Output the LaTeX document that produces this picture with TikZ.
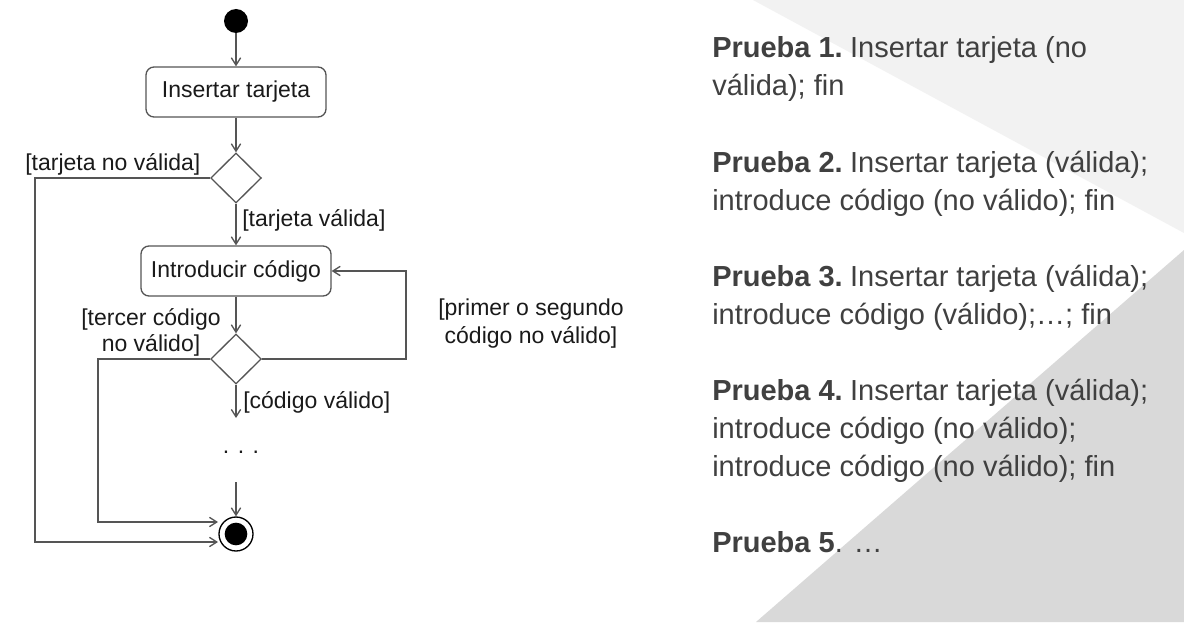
\documentclass[tikz,border=0pt]{standalone}
\usepackage{fontspec}
\setmainfont{Liberation Sans}
\usetikzlibrary{shapes.geometric,arrows.meta}
\definecolor{lg}{HTML}{F2F2F2}
\definecolor{dg}{HTML}{D9D9D9}
\definecolor{ln}{HTML}{555555}
\definecolor{txt}{HTML}{404040}
\definecolor{dtxt}{HTML}{1A1A1A}
\begin{document}
\begin{tikzpicture}[x=0.75pt,y=-0.75pt,
  flow/.style={draw=ln, line width=1pt, -{Straight Barb[length=5.5pt,width=7pt]}},
  act/.style={draw=ln, line width=1pt, rounded corners=6pt, minimum height=37.5pt, font=\fontsize{17.25}{19.5}\selectfont, text=dtxt, inner sep=0},
  dec/.style={diamond, draw=ln, line width=1pt, minimum width=38pt, minimum height=37.5pt, inner sep=0},
  lbl/.style={font=\fontsize{17.25}{19.5}\selectfont, text=dtxt, inner sep=0},
  prueba/.style={font=\fontsize{21.75}{28.5}\selectfont, text=txt, inner sep=0, align=left, anchor=base west}]
\useasboundingbox (0,0) rectangle (1184,631);
\fill[white] (0,0) rectangle (1184,631);
\fill[lg] (753,0) -- (1184,0) -- (1184,233) -- cycle;
\fill[dg] (756,622) -- (1184,622) -- (1184,250) -- cycle;

% activity diagram
\node[circle, fill=black, minimum size=18pt, inner sep=0] (start) at (236,21) {};
\node[act, minimum width=135pt] (ins) at (236,92) {Insertar tarjeta};
\node[dec] (d1) at (236,178) {};
\node[act, minimum width=142.5pt] (intro) at (236,271) {Introducir código};
\node[dec] (d2) at (236,359) {};
\node[lbl, anchor=base] (dots) at (241,453) {. . .};
\node[circle, draw=black, line width=1pt, minimum size=25.5pt, inner sep=0] (fin) at (236,534) {};
\node[circle, fill=black, minimum size=17pt, inner sep=0] (finin) at (fin.center) {};

\coordinate (dtop) at (236,418);
\coordinate (dbot) at (236,482);
\coordinate (f1) at (218,522);
\coordinate (f2) at (218,542);
\coordinate (l1) at (35,542);
\coordinate (l2) at (98,522);
\coordinate (r2) at (406,359);

\draw[flow] (start) -- (ins);
\draw[flow] (ins) -- (d1);
\draw[flow] (d1) -- (intro);
\draw[flow] (intro) -- (d2);
\draw[flow] (d2) -- (dtop);
\draw[flow] (dbot) -- (fin);
\draw[flow] (d2.east) -- (r2) |- (intro.east);
\draw[flow] (d1.west) -| (l1) -- (f2);
\draw[flow] (d2.west) -| (l2) -- (f1);

\node[lbl, anchor=base west] (ltnv) at (25,171) {[tarjeta no válida]};
\node[lbl, anchor=base west] (ltv) at (242,226) {[tarjeta válida]};
\node[lbl, align=center, anchor=base] (ltc) at (151,351) {[tercer código\\no válido]};
\node[lbl, align=center, anchor=base, font=\fontsize{17.25}{21}\selectfont] (lps) at (531,343) {[primer o segundo\\código no válido]};
\node[lbl, anchor=base west] (lcv) at (243,408) {[código válido]};

% test cases
\node[prueba] (p1) at (712,96) {\textbf{Prueba 1.}\hspace{-0.12em} Insertar tarjeta (no\\válida); fin};
\node[prueba] (p2) at (712,210) {\textbf{Prueba 2.}\hspace{-0.12em} Insertar tarjeta (válida);\\introduce código (no válido); fin};
\node[prueba] (p3) at (712,324) {\textbf{Prueba 3.}\hspace{-0.12em} Insertar tarjeta (válida);\\introduce código (válido);…; fin};
\node[prueba] (p4) at (712,476) {\textbf{Prueba 4.}\hspace{-0.12em} Insertar tarjeta (válida);\\introduce código (no válido);\\introduce código (no válido); fin};
\node[prueba] (p5) at (712,552) {\textbf{Prueba 5}. …};
\end{tikzpicture}
\end{document}
